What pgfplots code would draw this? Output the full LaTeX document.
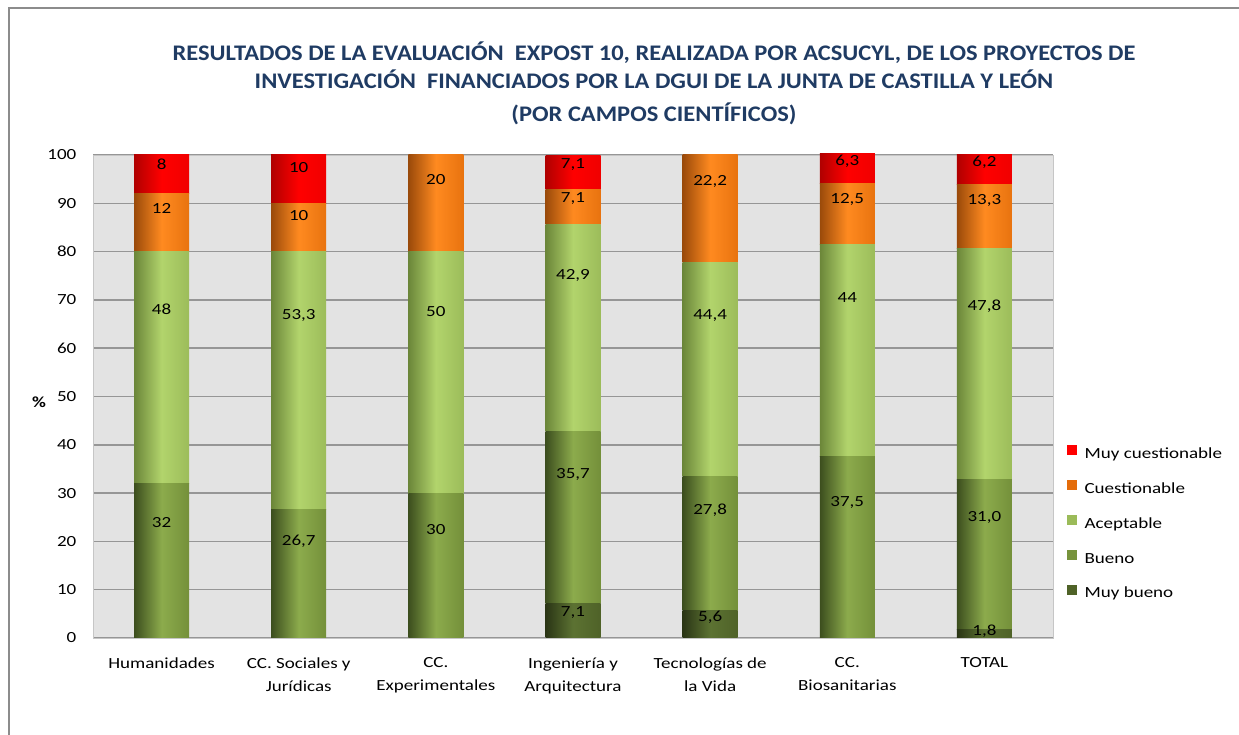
\documentclass[border=0pt]{standalone}
\usepackage{pgfplots}
\pgfplotsset{compat=1.18}
\usepackage{fontspec}
\setmainfont{Carlito}[FakeStretch=1.23]
\newfontfamily\titlefont{Carlito}[FakeStretch=1.1]
\definecolor{titleC}{HTML}{1F3B63}
\definecolor{mcL}{HTML}{B00000}\definecolor{mcM}{HTML}{FF0000}\definecolor{mcR}{HTML}{F00000}\definecolor{mcC}{HTML}{FF0000}
\definecolor{cuL}{HTML}{9A4A0A}\definecolor{cuM}{HTML}{FF8A20}\definecolor{cuR}{HTML}{E8730F}\definecolor{cuC}{HTML}{E46C0A}
\definecolor{acL}{HTML}{6B8639}\definecolor{acM}{HTML}{B2D46C}\definecolor{acR}{HTML}{9CBC5A}\definecolor{acC}{HTML}{9BBB59}
\definecolor{buL}{HTML}{3C4E1E}\definecolor{buM}{HTML}{8CAB4C}\definecolor{buR}{HTML}{74903A}\definecolor{buC}{HTML}{77933C}
\definecolor{mbL}{HTML}{2A3515}\definecolor{mbM}{HTML}{5C7232}\definecolor{mbR}{HTML}{4F6228}\definecolor{mbC}{HTML}{4F6228}
\definecolor{bgC}{RGB}{227,227,227}
\definecolor{gridC}{RGB}{150,150,150}
\definecolor{frameC}{RGB}{140,140,140}
% one bar segment per data point: a shaded rectangle hanging down from the stacked top
\pgfdeclareplotmark{segmb}{\shade[draw=none,left color=mbL,right color=mbR,middle color=mbM] (-20.625pt,0pt) rectangle (20.625pt,-\rawy*3.6225pt);}
\pgfdeclareplotmark{segbu}{\shade[draw=none,left color=buL,right color=buR,middle color=buM] (-20.625pt,0pt) rectangle (20.625pt,-\rawy*3.6225pt);}
\pgfdeclareplotmark{segac}{\shade[draw=none,left color=acL,right color=acR,middle color=acM] (-20.625pt,0pt) rectangle (20.625pt,-\rawy*3.6225pt);}
\pgfdeclareplotmark{segcu}{\shade[draw=none,left color=cuL,right color=cuR,middle color=cuM] (-20.625pt,0pt) rectangle (20.625pt,-\rawy*3.6225pt);}
\pgfdeclareplotmark{segmc}{\shade[draw=none,left color=mcL,right color=mcR,middle color=mcM] (-20.625pt,0pt) rectangle (20.625pt,-\rawy*3.6225pt);}
\begin{document}
\begin{tikzpicture}
\path[use as bounding box] (0,0) rectangle (929.25pt,551.25pt);
\draw[frameC, line width=0.8pt] (6.75pt,0) -- (6.75pt,545.25pt) -- (929.25pt,545.25pt);
\begin{scope}[every node/.style={anchor=base, text=titleC, font=\titlefont\bfseries\fontsize{16.7}{20}\selectfont}]
\node at (490.5pt,505.5pt) {RESULTADOS DE LA EVALUACIÓN\ \ EXPOST 10, REALIZADA POR ACSUCYL, DE LOS PROYECTOS DE};
\node at (490.5pt,484.5pt) {INVESTIGACIÓN\ \ FINANCIADOS POR LA DGUI DE LA JUNTA DE CASTILLA Y LEÓN};
\node at (490.5pt,459.75pt) {(POR CAMPOS CIENTÍFICOS)};
\end{scope}
\begin{axis}[
  at={(69.75pt,72.75pt)}, anchor=south west,
  scale only axis, width=720pt, height=362.25pt,
  clip=false,
  stack plots=y,
  xmin=-0.5, xmax=6.5, ymin=0, ymax=100,
  xtick={0,...,6},
  xticklabels={Humanidades,{CC. Sociales y\\Jurídicas},{CC.\\Experimentales},{Ingeniería y\\Arquitectura},{Tecnologías de\\la Vida},{CC.\\Biosanitarias},TOTAL},
  xticklabel style={align=center, font=\fontsize{11.6}{17.25}\selectfont, yshift=-11.25pt},
  ytick={0,10,...,100},
  yticklabel style={font=\fontsize{11.6}{14}\selectfont, xshift=-9pt},
  /pgf/number format/assume math mode=true,
  major tick length=0pt,
  ymajorgrids, grid style={gridC, line width=1.1pt},
  axis background/.style={fill=bgC},
  axis line style={draw=gray!45},
  ylabel={\textbf{\%}},
  ylabel style={rotate=-90, at={(axis description cs:-0.044,0.489)}, anchor=east, font=\fontsize{11.6}{14}\selectfont},
  reverse legend,
  legend style={at={(axis description cs:1.0,0.236)}, anchor=west, xshift=10pt, draw=none, fill=none, inner sep=0pt,
    font=\fontsize{11.6}{14}\selectfont, row sep=12.9pt, nodes={inner sep=1pt, text height=8pt, text depth=2.5pt}},
  legend cell align=left,
  only marks,
  nodes near coords,
  point meta=explicit symbolic,
  visualization depends on=rawy \as \rawy,
  every node near coord/.append style={anchor=center, text=black, font=\fontsize{11.6}{14}\selectfont, yshift=-\rawy*0.905625pt},
]
\addplot[mark=segmb,
  legend image code/.code={\fill[draw=none,mbC] (0pt,-0.5pt) rectangle (7.5pt,7pt); \path[draw=none] (0pt,0pt) -- (12.5pt,0pt);}]
  coordinates {(0,0) [{}] (1,0) [{}] (2,0) [{}] (3,7.1) [{7,1}] (4,5.6) [{5,6}] (5,0) [{}] (6,1.8) [{1,8}]};
\addlegendentry{Muy bueno}
\addplot[mark=segbu,
  legend image code/.code={\fill[draw=none,buC] (0pt,-0.5pt) rectangle (7.5pt,7pt); \path[draw=none] (0pt,0pt) -- (12.5pt,0pt);}]
  coordinates {(0,32) [{32}] (1,26.7) [{26,7}] (2,30) [{30}] (3,35.7) [{35,7}] (4,27.8) [{27,8}] (5,37.5) [{37,5}] (6,31.0) [{31,0}]};
\addlegendentry{Bueno}
\addplot[mark=segac,
  legend image code/.code={\fill[draw=none,acC] (0pt,-0.5pt) rectangle (7.5pt,7pt); \path[draw=none] (0pt,0pt) -- (12.5pt,0pt);}]
  coordinates {(0,48) [{48}] (1,53.3) [{53,3}] (2,50) [{50}] (3,42.9) [{42,9}] (4,44.4) [{44,4}] (5,44) [{44}] (6,47.8) [{47,8}]};
\addlegendentry{Aceptable}
\addplot[mark=segcu,
  legend image code/.code={\fill[draw=none,cuC] (0pt,-0.5pt) rectangle (7.5pt,7pt); \path[draw=none] (0pt,0pt) -- (12.5pt,0pt);}]
  coordinates {(0,12) [{12}] (1,10) [{10}] (2,20) [{20}] (3,7.1) [{7,1}] (4,22.2) [{22,2}] (5,12.5) [{12,5}] (6,13.3) [{13,3}]};
\addlegendentry{Cuestionable}
\addplot[mark=segmc,
  legend image code/.code={\fill[draw=none,mcC] (0pt,-0.5pt) rectangle (7.5pt,7pt); \path[draw=none] (0pt,0pt) -- (12.5pt,0pt);}]
  coordinates {(0,8) [{8}] (1,10) [{10}] (2,0) [{}] (3,7.1) [{7,1}] (4,0) [{}] (5,6.3) [{6,3}] (6,6.2) [{6,2}]};
\addlegendentry{Muy cuestionable}
\end{axis}
\end{tikzpicture}
\end{document}
